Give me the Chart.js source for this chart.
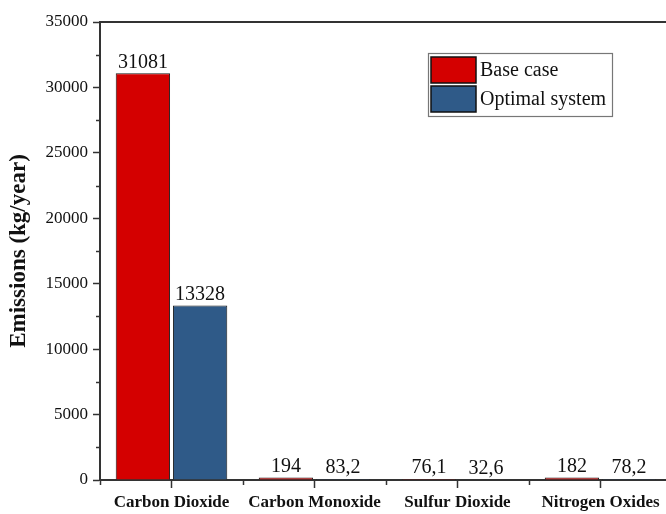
<!DOCTYPE html>
<html>
<head>
<meta charset="utf-8">
<script src="https://cdn.jsdelivr.net/npm/chart.js@4"></script>
<style>
  html, body { margin: 0; padding: 0; background: #fff; overflow: hidden; }
  #wrap { width: 672px; height: 514px; position: relative; }
</style>
</head>
<body>
<div id="wrap"><canvas id="myChart"></canvas></div>
<script>
let categories = ["Carbon Dioxide", "Carbon Monoxide", "Sulfur Dioxide", "Nitrogen Oxides"];
let seriesNames = ["Base case", "Optimal system"];
let baseCase = [31081, 194, 76.1, 182];
let optimalSystem = [13328, 83.2, 32.6, 78.2];
let yTicks = [0, 5000, 10000, 15000, 20000, 25000, 30000, 35000];
let yTitle = "Emissions (kg/year)";

let serif = "'Liberation Serif', 'Times New Roman', serif";

function fmt(v) {
  return String(v).replace(".", ",");
}

// value labels, minor ticks, top frame line, legend box and y title
const extras = {
  id: "extras",
  afterDatasetsDraw(chart) {
    const ctx = chart.ctx;
    const area = chart.chartArea;
    const y = chart.scales.y;

    ctx.save();
    // values above bars
    ctx.fillStyle = "#111";
    ctx.font = "20px " + serif;
    ctx.textAlign = "center";
    ctx.textBaseline = "bottom";
    chart.data.datasets.forEach((ds, i) => {
      chart.getDatasetMeta(i).data.forEach((bar, j) => {
        ctx.fillText(fmt(ds.data[j]), bar.x, bar.y - 1);
      });
    });

    // top frame line
    ctx.strokeStyle = "#333";
    ctx.lineWidth = 2;
    ctx.beginPath();
    ctx.moveTo(area.left, area.top);
    ctx.lineTo(area.right + 2, area.top);
    ctx.stroke();

    // minor y ticks
    ctx.lineWidth = 1.5;
    for (let k = 0; k < yTicks.length - 1; k++) {
      let py = Math.round(y.getPixelForValue((yTicks[k] + yTicks[k + 1]) / 2)) + 0.5;
      ctx.beginPath();
      ctx.moveTo(area.left - 4, py);
      ctx.lineTo(area.left, py);
      ctx.stroke();
    }
    // minor x ticks at category borders
    let step = (area.right - area.left) / categories.length;
    for (let k = 0; k <= categories.length; k++) {
      let px = Math.round(area.left + k * step) + 0.5;
      ctx.beginPath();
      ctx.moveTo(px, area.bottom);
      ctx.lineTo(px, area.bottom + 5);
      ctx.stroke();
    }

    // legend
    let lx = 428, ly = 53, lw = 184, lh = 63;
    ctx.fillStyle = "#fff";
    ctx.fillRect(lx, ly, lw, lh);
    ctx.strokeStyle = "#777";
    ctx.lineWidth = 1.2;
    ctx.strokeRect(lx + 0.5, ly + 0.5, lw, lh);
    ctx.font = "20px " + serif;
    ctx.textAlign = "left";
    ctx.textBaseline = "middle";
    chart.data.datasets.forEach((ds, i) => {
      let sy = ly + 4 + i * 29;
      ctx.fillStyle = ds.backgroundColor;
      ctx.fillRect(lx + 3, sy, 45, 26);
      ctx.strokeStyle = "#111";
      ctx.lineWidth = 1.5;
      ctx.strokeRect(lx + 3, sy, 45, 26);
      ctx.fillStyle = "#111";
      ctx.fillText(ds.label, lx + 52, sy + 14);
    });

    // y axis title
    ctx.translate(19, (area.top + area.bottom) / 2);
    ctx.rotate(-Math.PI / 2);
    ctx.font = "bold 23px " + serif;
    ctx.textAlign = "center";
    ctx.textBaseline = "middle";
    ctx.fillStyle = "#111";
    ctx.fillText(yTitle, 0, 0);
    ctx.restore();
  }
};

const ctx = document.getElementById("myChart");
let myChart = new Chart(ctx, {
  type: "bar",
  data: {
    labels: categories,
    datasets: [
      {
        label: seriesNames[0],
        data: baseCase,
        backgroundColor: "#D40000",
        borderColor: "#1a1a1a",
        borderWidth: 1,
      },
      {
        label: seriesNames[1],
        data: optimalSystem,
        backgroundColor: "#2F5A88",
        borderColor: "#1a1a1a",
        borderWidth: 1,
      },
    ],
  },
  options: {
    responsive: true,
    maintainAspectRatio: false,
    animation: false,
    layout: { padding: { top: 22, left: 0, right: 0, bottom: 0 } },
    plugins: {
      legend: { display: false },
      tooltip: { enabled: false },
    },
    datasets: {
      bar: { categoryPercentage: 0.8, barPercentage: 0.95 },
    },
    scales: {
      x: {
        afterFit(scale) { scale.height = 34; },
        grid: {
          offset: false,
          drawOnChartArea: false,
          drawTicks: true,
          tickLength: 8,
          tickColor: "#333",
          tickWidth: 1.5,
        },
        border: { color: "#333", width: 2 },
        ticks: {
          color: "#111",
          padding: 4,
          maxRotation: 0,
          font: { family: serif, size: 17, weight: "bold" },
        },
      },
      y: {
        min: yTicks[0],
        max: yTicks[yTicks.length - 1],
        afterFit(scale) { scale.width = 100; },
        afterBuildTicks(scale) {
          scale.ticks = yTicks.map((v) => ({ value: v }));
        },
        grid: {
          drawOnChartArea: false,
          drawTicks: true,
          tickLength: 7,
          tickColor: "#333",
          tickWidth: 1.5,
        },
        border: { color: "#333", width: 2 },
        ticks: {
          color: "#111",
          padding: 5,
          font: { family: serif, size: 17 },
          callback: (v) => String(v),
        },
      },
    },
  },
  plugins: [extras],
});
</script>
</body>
</html>
